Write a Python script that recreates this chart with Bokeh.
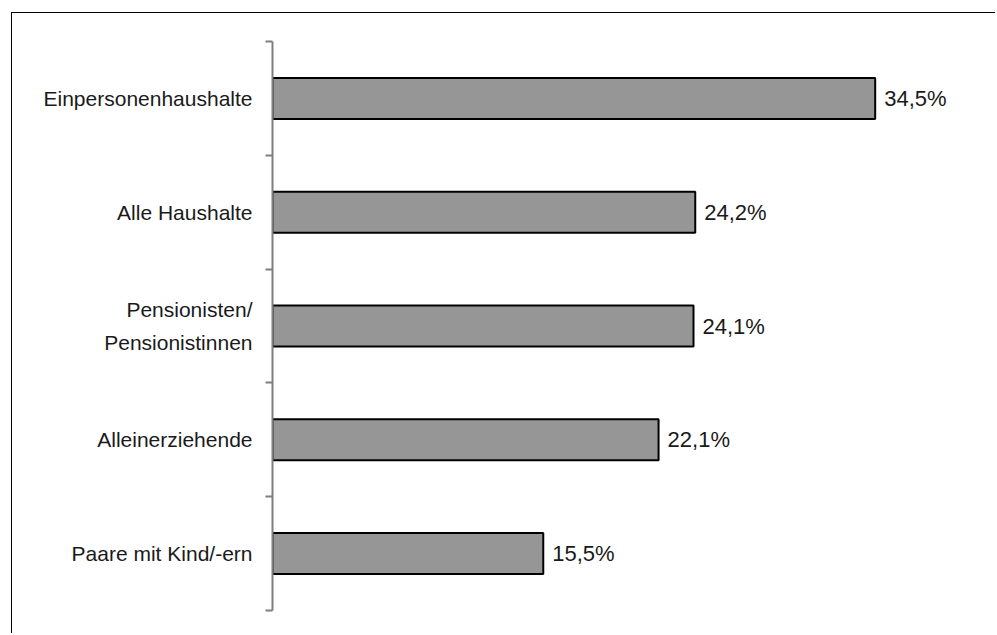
from bokeh.plotting import figure
from bokeh.models import LinearAxis, FixedTicker, Range1d
from bokeh.core.properties import value
from bokeh.embed import file_html
from bokeh.resources import INLINE

categories = ["Einpersonenhaushalte", "Alle Haushalte", "Pensionisten/\nPensionistinnen",
              "Alleinerziehende", "Paare mit Kind/-ern"]
values = [34.5, 24.2, 24.1, 22.1, 15.5]
value_labels = [f"{v:.1f}".replace(".", ",") + "%" for v in values]

n = len(categories)
ypos = [i + 0.5 for i in range(n)]

p = figure(width=984, height=621, output_backend="svg", toolbar_location=None,
           x_axis_type=None, y_axis_type=None,
           x_range=Range1d(0, 40.3), y_range=Range1d(n, 0),
           min_border_left=260, min_border_top=28, min_border_bottom=24, min_border_right=20)
p.styles = {"margin-left": "11px", "margin-top": "12px",
            "border-left": "1.5px solid black", "border-top": "1.5px solid black"}
p.outline_line_color = None
p.xgrid.visible = False
p.ygrid.visible = False
p.background_fill_color = "white"
p.border_fill_color = "white"

ax = LinearAxis(ticker=FixedTicker(ticks=ypos, minor_ticks=list(range(n + 1))))
ax.major_label_overrides = {y: c for y, c in zip(ypos, categories)}
ax.major_tick_out = 0
ax.major_tick_in = 0
ax.major_tick_line_color = None
ax.minor_tick_out = 7
ax.minor_tick_in = 0
ax.minor_tick_line_color = "#7f7f7f"
ax.minor_tick_line_width = 2
ax.axis_line_color = "#7f7f7f"
ax.axis_line_width = 2
ax.major_label_standoff = 13
ax.major_label_text_font = "Liberation Sans"
ax.major_label_text_font_size = "21px"
ax.major_label_text_line_height = 1.4
ax.major_label_text_color = "#1a1a1a"
p.add_layout(ax, "left")

p.hbar(y=ypos, right=values, left=0, height=0.36, fill_color="#969696",
       line_color="black", line_width=2)
p.text(x=values, y=ypos, text=value_labels, x_offset=9, text_baseline="middle",
       text_align="left", text_font=value("Liberation Sans"), text_font_size="22px",
       text_color="#1a1a1a")

open("out.html", "w").write(file_html(p, INLINE))
